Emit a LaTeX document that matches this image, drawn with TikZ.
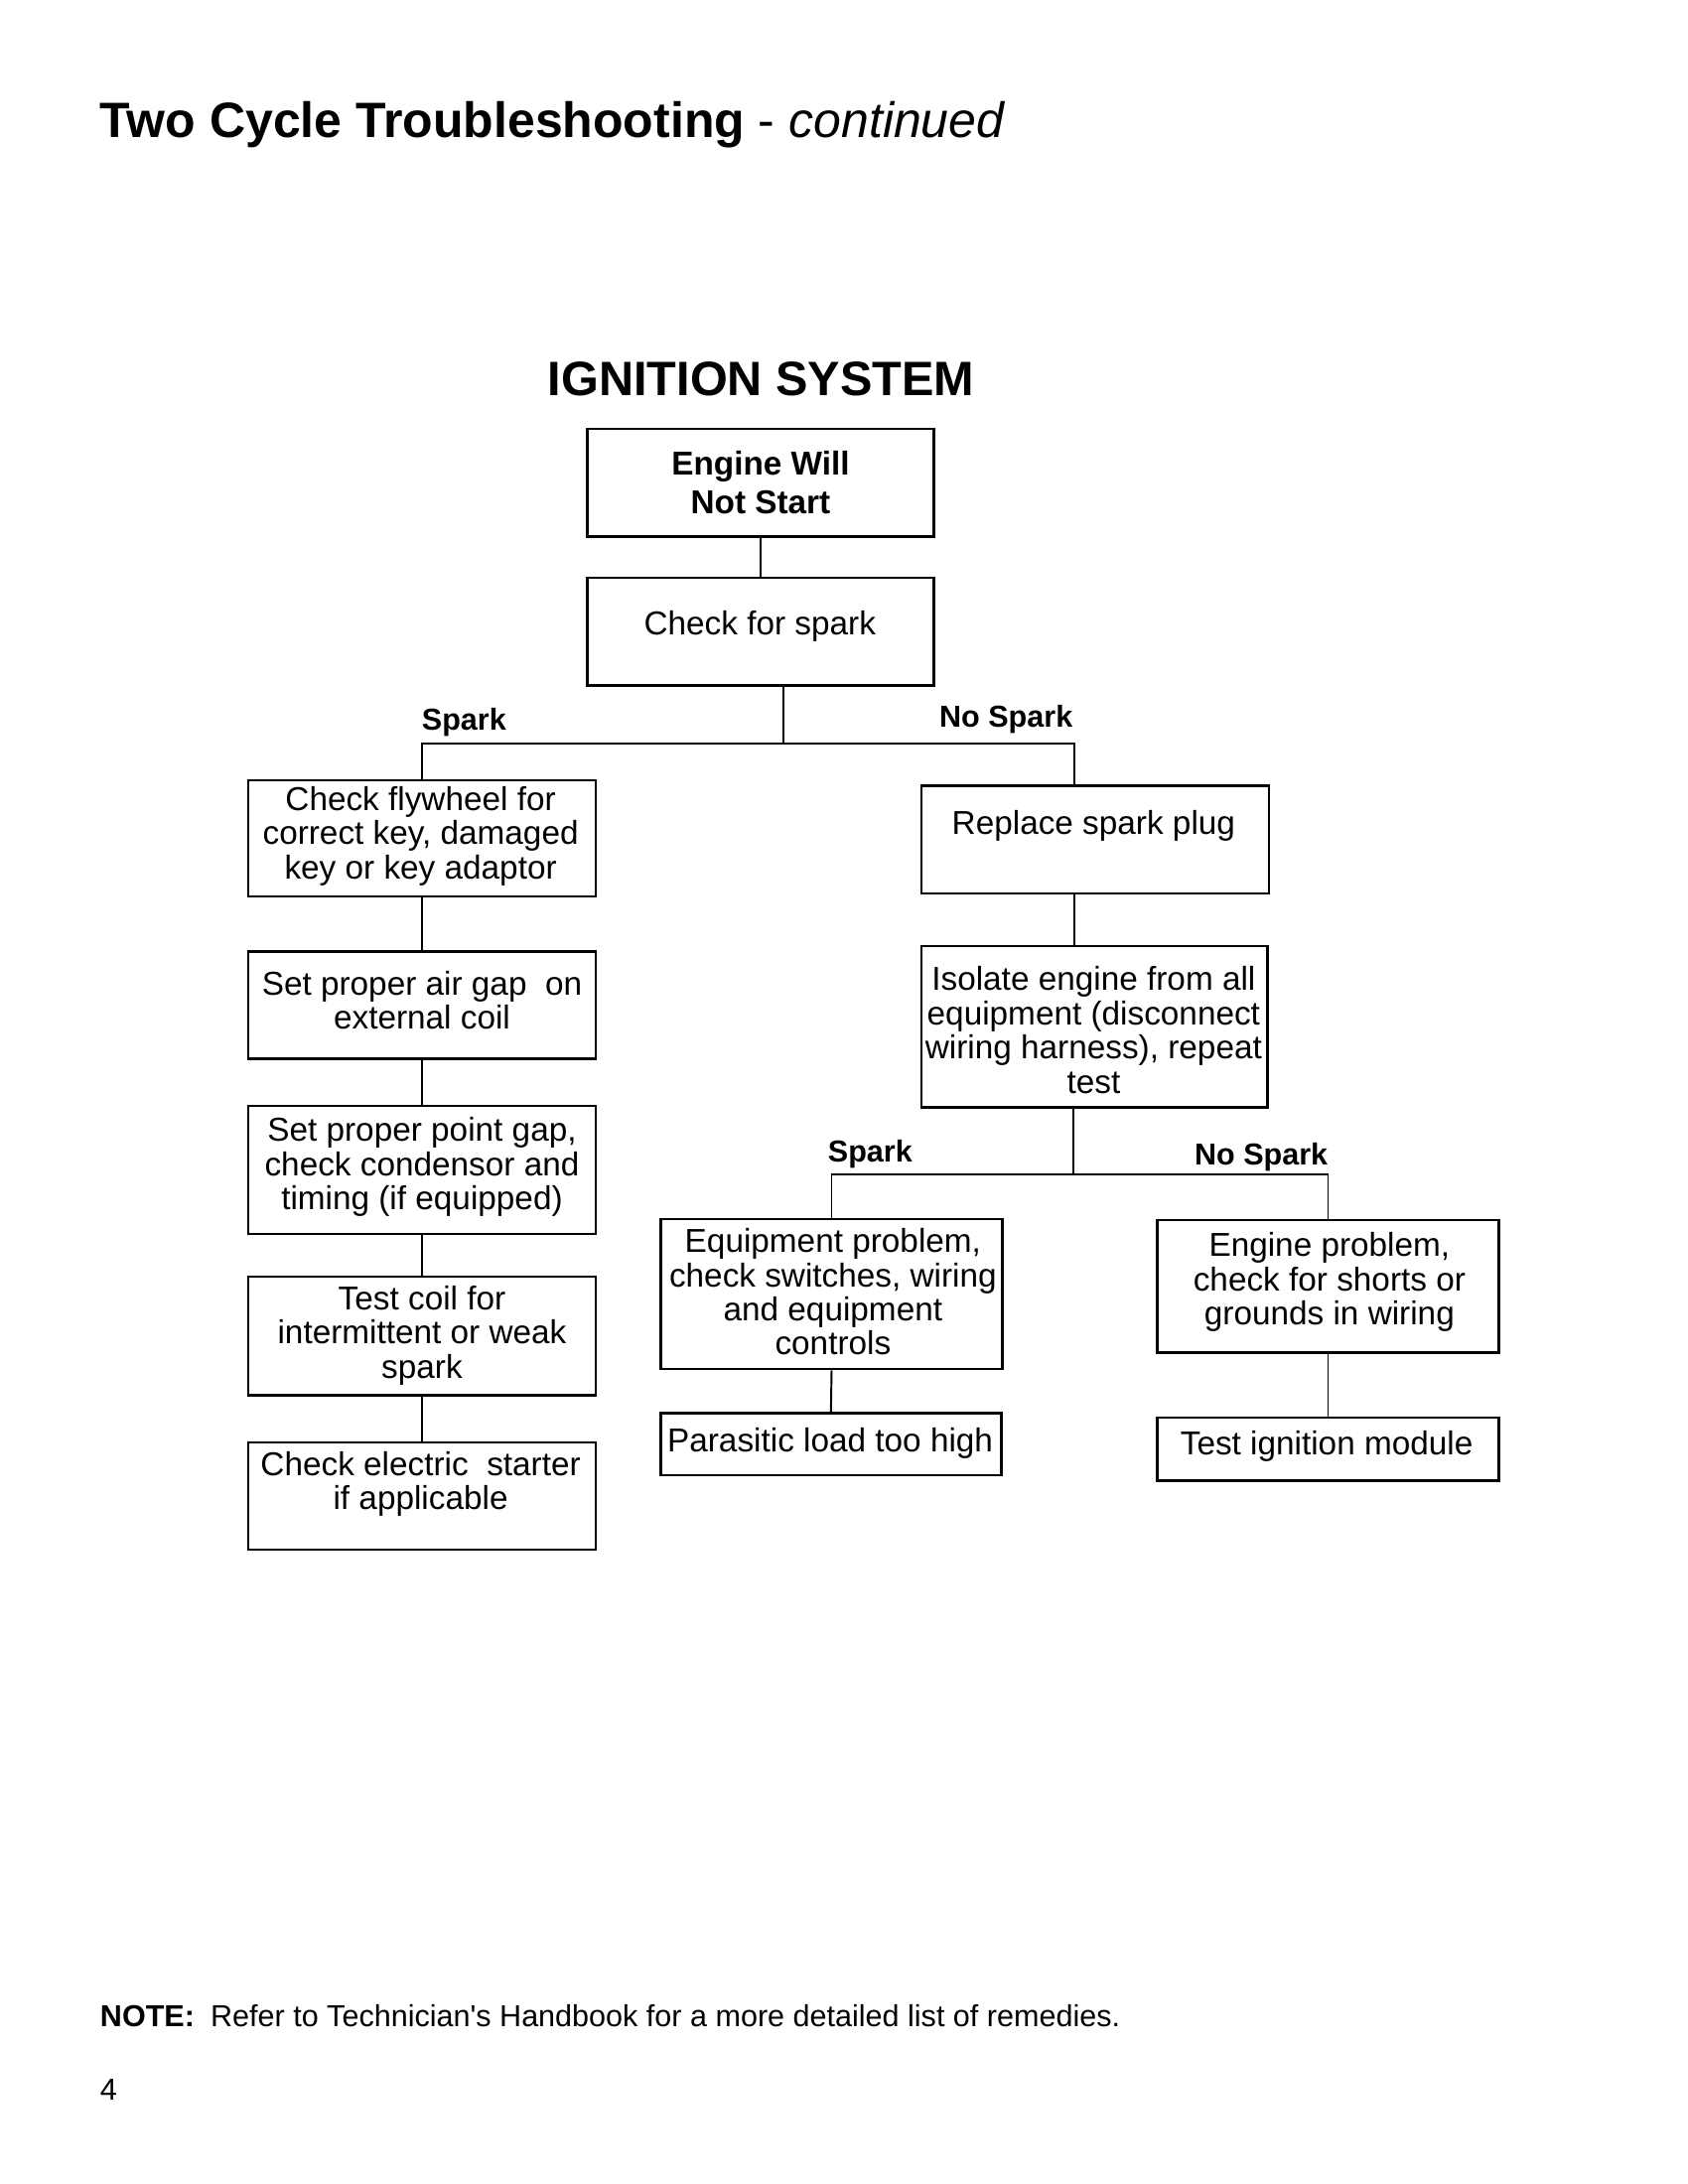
\documentclass[tikz,border=0pt]{standalone}
\usepackage{fontspec}
\setmainfont{Liberation Sans}
\usetikzlibrary{calc}

\begin{document}
\begin{tikzpicture}[x=0.5pt, y=-0.5pt, line width=0.7pt,
    box/.style={draw, line width=0.9pt, inner sep=0pt},
    txt/.style={align=center, inner sep=0pt, font=\fontsize{12}{12.4}\selectfont},
    branch/.style={inner sep=0pt, font=\bfseries\fontsize{11}{13}\selectfont}]
    \useasboundingbox (0, 0) rectangle (1224, 1584);
    \node[anchor=base west, inner sep=0pt, font=\fontsize{18}{20}\selectfont] (title) at (72, 100) {\textbf{Two Cycle Troubleshooting} - \textit{continued}};
    \node[anchor=base, inner sep=0pt, font=\bfseries\fontsize{17.5}{20}\selectfont] (head) at (552, 287) {IGNITION SYSTEM};
    %% boxes
    \node[box, minimum width=125.5pt, minimum height=39pt] (start) at (551.5, 350) {};
    \node[box, minimum width=125.5pt, minimum height=39pt] (check) at (551.5, 458) {};
    \node[box, minimum width=126pt, minimum height=42pt] (fly) at (306, 608) {};
    \node[box, minimum width=126pt, minimum height=39pt] (airgap) at (306, 729) {};
    \node[box, minimum width=126pt, minimum height=46.5pt] (point) at (306, 848.5) {};
    \node[box, minimum width=126pt, minimum height=43pt] (coil) at (306, 969) {};
    \node[box, minimum width=126pt, minimum height=39pt] (starter) at (306, 1085) {};
    \node[box, minimum width=126pt, minimum height=39pt] (plug) at (794, 609) {};
    \node[box, minimum width=125.5pt, minimum height=58.5pt] (isolate) at (793.5, 744.5) {};
    \node[box, minimum width=124pt, minimum height=54.5pt] (equip) at (603, 938.5) {};
    \node[box, minimum width=123.5pt, minimum height=22.5pt] (load) at (602.5, 1047.5) {};
    \node[box, minimum width=124pt, minimum height=48pt] (engine) at (963, 933) {};
    \node[box, minimum width=124pt, minimum height=23pt] (module) at (963, 1051) {};
    %% box texts
    \node[txt, font=\bfseries\fontsize{12}{14}\selectfont] (start-t) at (551.5, 350) {Engine Will\\Not Start};
    \node[txt] (check-t) at (551, 454) {Check for spark};
    \node[txt] (fly-t) at (305, 606.5) {Check flywheel for\\correct key, damaged\\key or key adaptor};
    \node[txt] (airgap-t) at (306, 725.5) {Set proper air gap\ \ on\\external coil};
    \node[txt] (point-t) at (306, 846.5) {Set proper point gap,\\check condensor and\\timing (if equipped)};
    \node[txt] (coil-t) at (306, 968.5) {Test coil for\\intermittent or weak\\spark};
    \node[txt] (starter-t) at (305, 1076.5) {Check electric\ \ starter\\if applicable};
    \node[txt] (plug-t) at (793, 599) {Replace spark plug};
    \node[txt] (isolate-t) at (793, 747) {Isolate engine from all\\equipment (disconnect\\wiring harness), repeat\\test};
    \node[txt] (equip-t) at (604, 937) {Equipment problem,\\check switches, wiring\\and equipment\\controls};
    \node[txt] (load-t) at (602, 1047) {Parasitic load too high};
    \node[txt] (engine-t) at (964, 930) {Engine problem,\\check for shorts or\\grounds in wiring};
    \node[txt] (module-t) at (962, 1049) {Test ignition module};
    %% branch labels
    \node[branch] (lspark) at (336.5, 524) {Spark};
    \node[branch] (rspark) at (729.5, 522) {No Spark};
    \node[branch] (lspark2) at (631, 837) {Spark};
    \node[branch] (rspark2) at (914.5, 839) {No Spark};
    %% connectors
    \coordinate (split1) at (568, 539);
    \coordinate (rbranch) at (779, 539);
    \coordinate (split2) at (778, 852);
    \draw (start.south) -- (check.north);
    \draw (check.south -| split1) -- (split1);
    \draw (fly.north) |- (rbranch) -- (plug.north -| rbranch);
    \draw (plug.south -| rbranch) -- (isolate.north -| rbranch);
    \draw (fly.south) -- (airgap.north);
    \draw (airgap.south) -- (point.north);
    \draw (point.south) -- (coil.north);
    \draw (coil.south) -- (starter.north);
    \draw (isolate.south -| split2) -- (split2);
    \draw (equip.north) |- (split2) -| (engine.north);
    \draw (equip.south) -- (load.north);
    \draw (engine.south) -- (module.north);
    %% footer
    \node[anchor=base west, inner sep=0pt, font=\bfseries\fontsize{11}{13}\selectfont] (note) at (72, 1470) {NOTE:};
    \node[anchor=base west, inner sep=0pt, font=\fontsize{11}{13}\selectfont] (note-t) at (152, 1470) {Refer to Technician\textquotesingle s Handbook for a more detailed list of remedies.};
    \node[anchor=base west, inner sep=0pt, font=\fontsize{11}{13}\selectfont] (page) at (72, 1523) {4};
\end{tikzpicture}
\end{document}
